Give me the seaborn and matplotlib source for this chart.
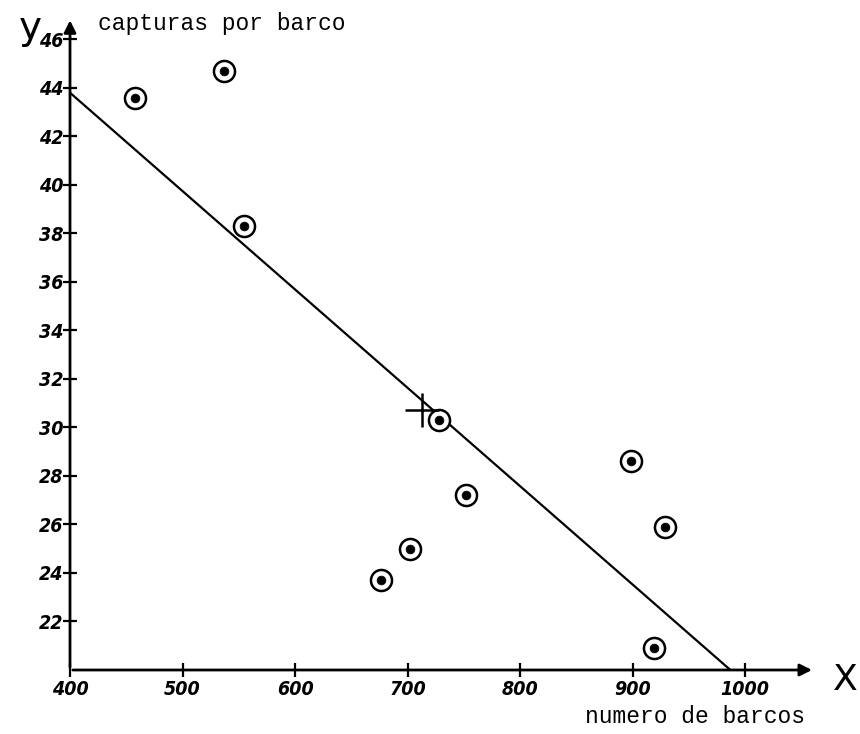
import matplotlib
matplotlib.use("Agg")
import matplotlib.pyplot as plt
import seaborn as sns
import pandas as pd

# Data
barcos = [458, 537, 555, 728, 752, 702, 676, 899, 929, 919]
capturas = [43.6, 44.7, 38.3, 30.3, 27.2, 25.0, 23.7, 28.6, 25.9, 20.9]
media_x, media_y = 713, 30.7
recta_x = [400, 987]
recta_y = [43.8, 20.0]
x_ticks = [400, 500, 600, 700, 800, 900, 1000]
y_ticks = [22, 24, 26, 28, 30, 32, 34, 36, 38, 40, 42, 44, 46]

sns.set_theme(style="white")
plt.rcParams['font.family'] = ['DejaVu Sans']

df = pd.DataFrame({"barcos": barcos, "capturas": capturas})
fig = plt.figure(figsize=(8.6, 7.34), dpi=100)
ax = fig.add_axes([0.0814, 0.0872, 0.866, 0.8856])

sns.lineplot(x=recta_x, y=recta_y, ax=ax, color="black", linewidth=1.6)
sns.scatterplot(data=df, x="barcos", y="capturas", ax=ax, s=230,
                facecolor="white", edgecolor="black", linewidth=1.8, zorder=3)
sns.scatterplot(data=df, x="barcos", y="capturas", ax=ax, s=40,
                color="black", edgecolor="black", zorder=4)
ax.plot([media_x], [media_y], marker="+", markersize=24, mew=1.8,
        color="black", zorder=5)

ax.set_xlim(400, 1062)
ax.set_ylim(20, 46.8)
for s in ax.spines.values():
    s.set_visible(False)

# axes with arrows
ax.annotate("", xy=(1062, 20), xytext=(400, 20),
            arrowprops=dict(arrowstyle="-|>", color="black", lw=2,
                            mutation_scale=18), annotation_clip=False)
ax.annotate("", xy=(400, 46.9), xytext=(400, 20),
            arrowprops=dict(arrowstyle="-|>", color="black", lw=2,
                            mutation_scale=18), annotation_clip=False)

ax.set_xticks(x_ticks)
ax.set_yticks(y_ticks)
ax.tick_params(axis="both", which="both", direction="inout", length=10,
               width=1.6, color="black", bottom=True, left=True)
ax.tick_params(axis="x", pad=2)
ax.tick_params(axis="y", pad=0)
for lab in ax.get_xticklabels() + ax.get_yticklabels():
    lab.set_fontsize(14)
    lab.set_fontweight("bold")
    lab.set_fontstyle("italic")
    lab.set_fontstretch("condensed")
    lab.set_color("black")

ax.set_xlabel("")
ax.set_ylabel("")
ax.text(0.037, 0.995, "capturas por barco", transform=ax.transAxes,
        fontsize=16.5, family="Liberation Mono", va="center", ha="left",
        color="black")
ax.text(0.987, -0.072, "numero de barcos", transform=ax.transAxes,
        fontsize=16.5, family="Liberation Mono", va="center", ha="right",
        color="black")
fig.text(0.035, 0.962, "y", fontsize=28, ha="center", va="center",
         color="black")
fig.text(0.983, 0.074, "X", fontsize=26, ha="center", va="center",
         color="black")

fig.savefig("out.png", dpi=100, facecolor="white")
